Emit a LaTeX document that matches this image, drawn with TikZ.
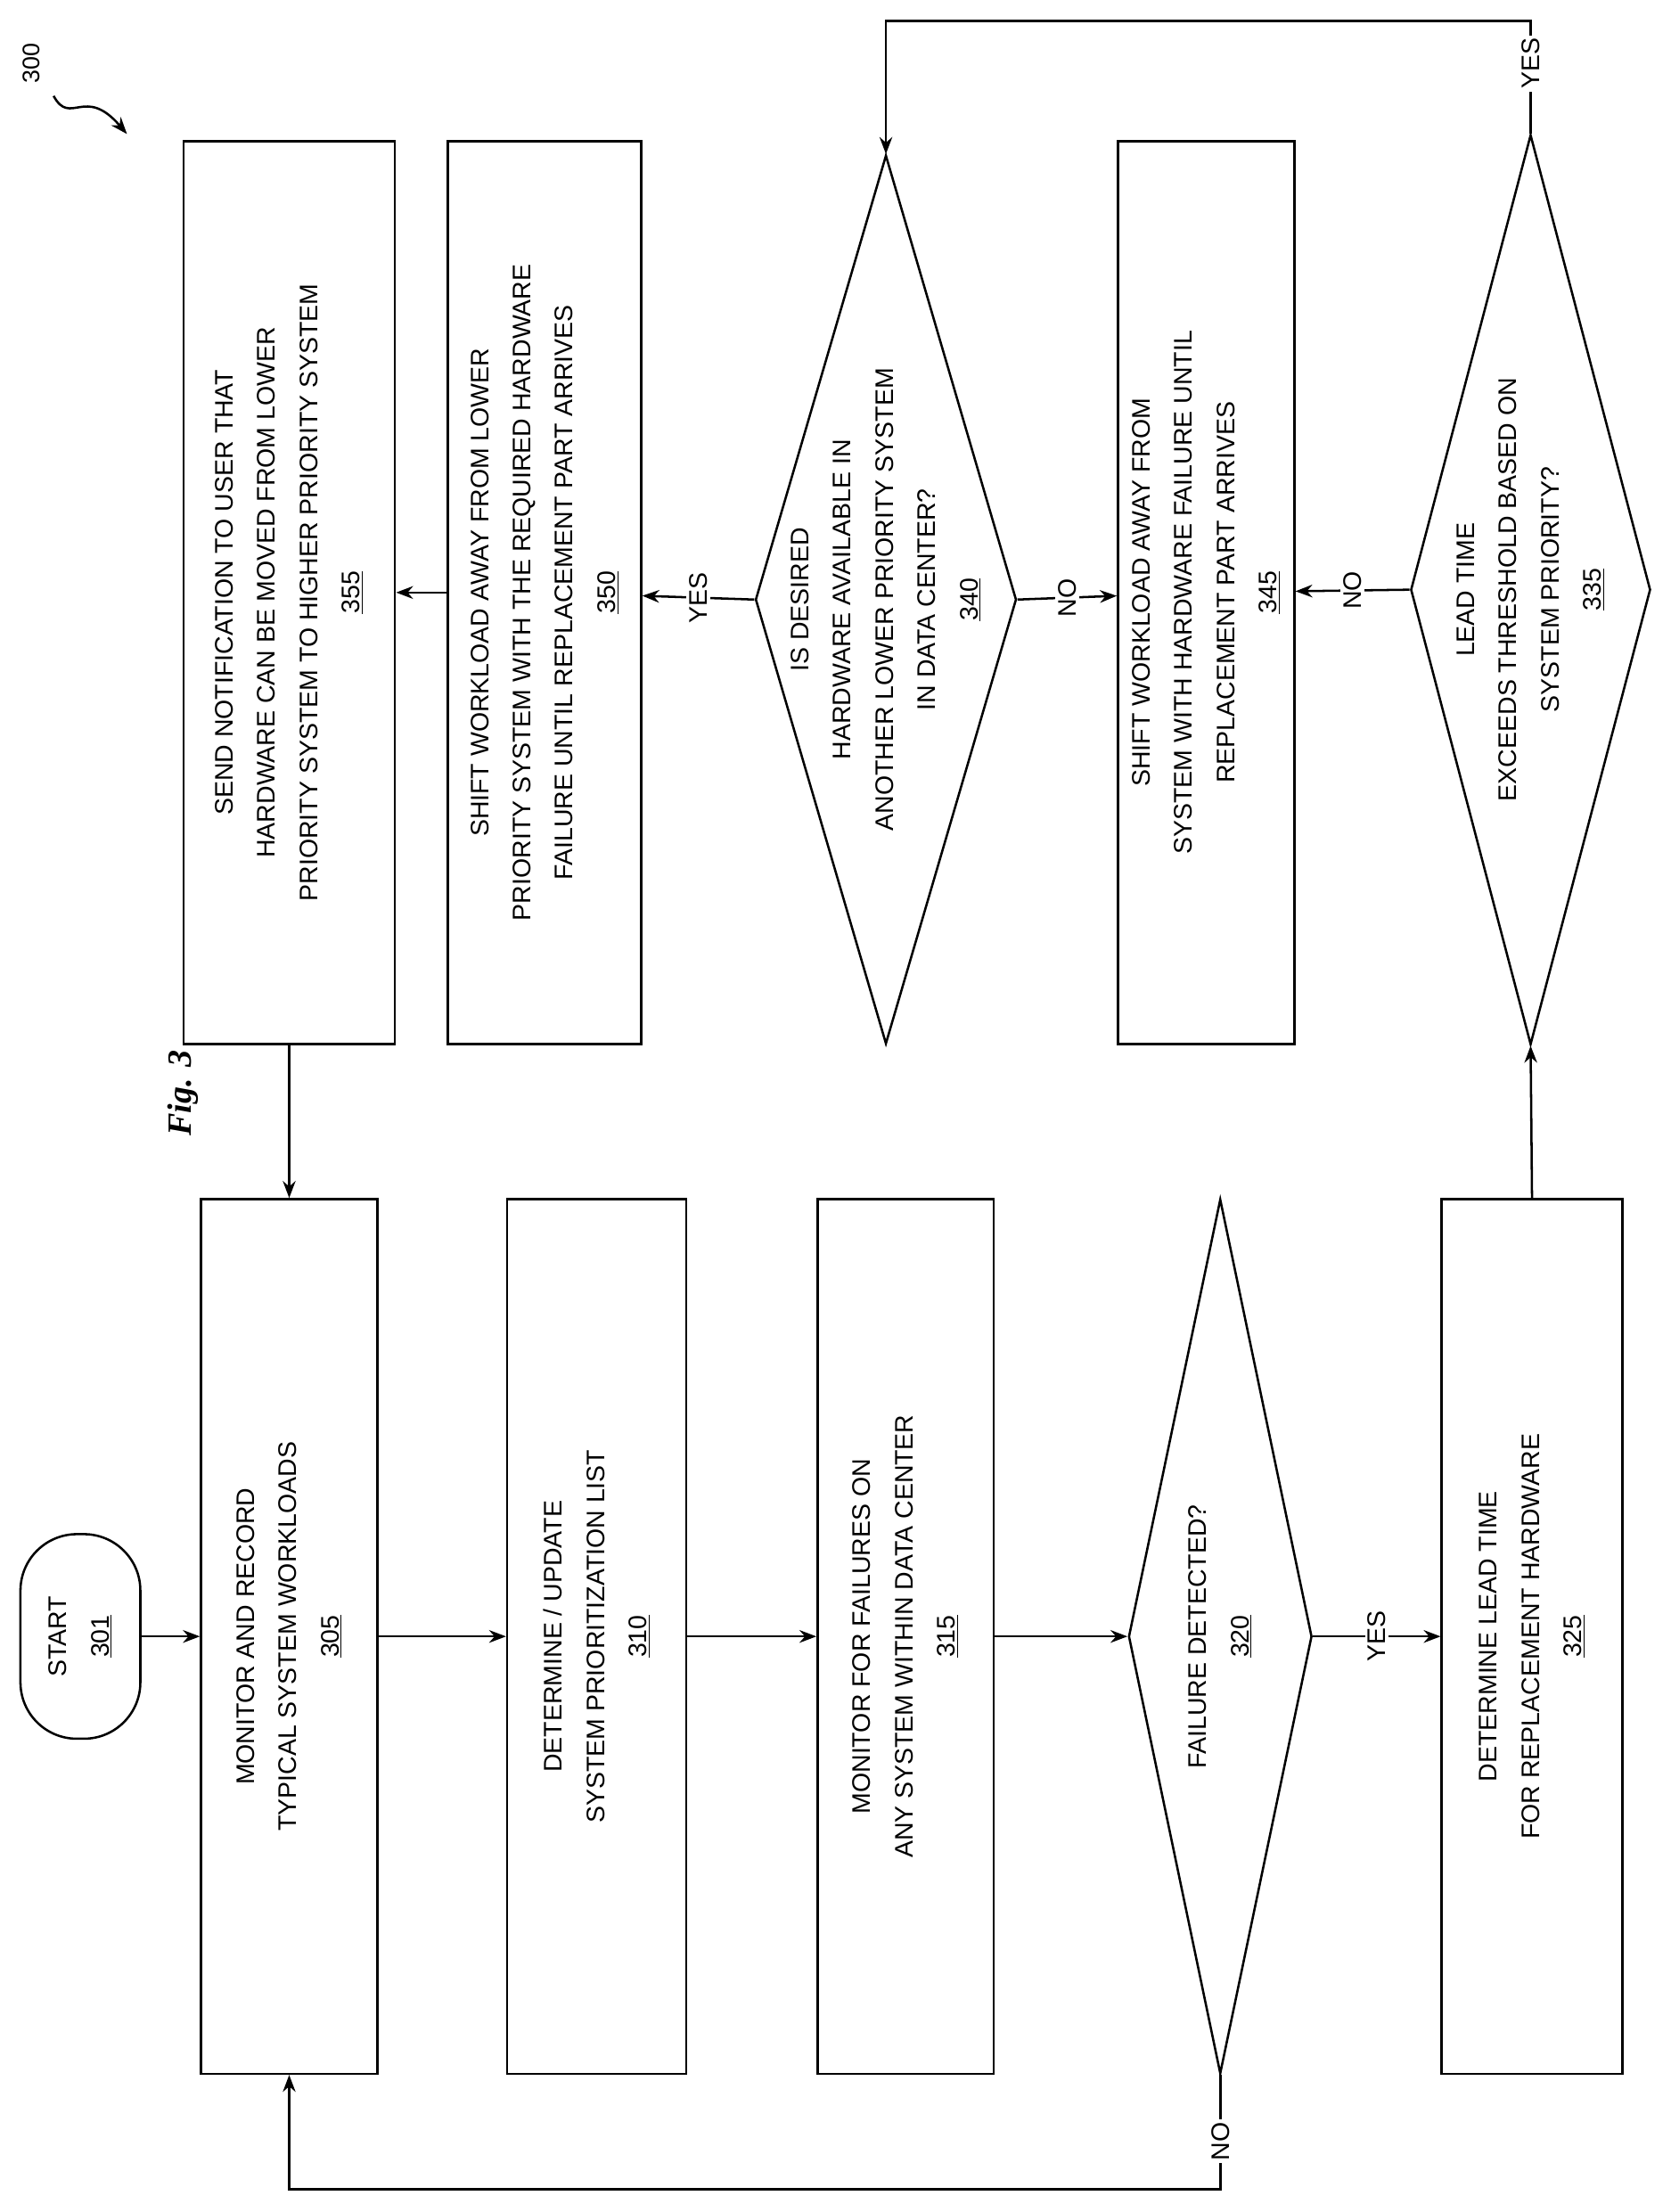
\documentclass[tikz,border=0pt]{standalone}
\usepackage{fontspec}
\setmainfont{Liberation Sans}
\newfontfamily\figfont{Liberation Serif}
\usetikzlibrary{shapes.geometric,arrows.meta}
\begin{document}
\begin{tikzpicture}[x=1pt,y=-1pt,
  every node/.style={font=\fontsize{18}{30}\selectfont},
  box/.style={draw,line width=1.6pt,rotate=90,inner sep=0pt,align=center},
  dia/.style={draw,line width=1.6pt,diamond,rotate=90,inner sep=0pt},
  txt/.style={rotate=90,align=center,inner sep=0pt},
  arr/.style={line width=1.6pt,-{Stealth[length=12pt,width=9pt]}},
  lab/.style={rotate=90,fill=white,inner sep=2pt}]
\useasboundingbox (0,0) rectangle (1184,1568);
% left column
\node[box,rounded corners=40pt,minimum width=145,minimum height=85] (n301) at (57,1160) {START\\\underline{301}};
\node[box,minimum width=620,minimum height=125] (n305) at (205,1160) {MONITOR AND RECORD\\TYPICAL SYSTEM WORKLOADS\\\underline{305}};
\node[box,minimum width=620,minimum height=127] (n310) at (423,1160) {DETERMINE / UPDATE\\SYSTEM PRIORITIZATION LIST\\\underline{310}};
\node[box,minimum width=620,minimum height=125] (n315) at (642,1160) {MONITOR FOR FAILURES ON\\ANY SYSTEM WITHIN DATA CENTER\\\underline{315}};
\node[dia,minimum width=620,minimum height=130] (n320) at (865,1160) {};
\node[txt] at (865,1160) {FAILURE DETECTED?\\\underline{320}};
\node[box,minimum width=620,minimum height=128] (n325) at (1086,1160) {DETERMINE LEAD TIME\\FOR REPLACEMENT HARDWARE\\\underline{325}};
% right column
\node[box,minimum width=640,minimum height=150] (n355) at (205,420) {SEND NOTIFICATION TO USER THAT\\HARDWARE CAN BE MOVED FROM LOWER\\PRIORITY SYSTEM TO HIGHER PRIORITY SYSTEM\\\underline{355}};
\node[box,minimum width=640,minimum height=137] (n350) at (386,420) {SHIFT WORKLOAD AWAY FROM LOWER\\PRIORITY SYSTEM WITH THE REQUIRED HARDWARE\\FAILURE UNTIL REPLACEMENT PART ARRIVES\\\underline{350}};
\node[dia,minimum width=630,minimum height=185] (n340) at (628,425) {};
\node[txt] at (628,425) {IS DESIRED\\HARDWARE AVAILABLE IN\\ANOTHER LOWER PRIORITY SYSTEM\\IN DATA CENTER?\\\underline{340}};
\node[box,minimum width=640,minimum height=125] (n345) at (855,420) {SHIFT WORKLOAD AWAY FROM\\SYSTEM WITH HARDWARE FAILURE UNTIL\\REPLACEMENT PART ARRIVES\\\underline{345}};
\node[dia,minimum width=645,minimum height=170] (n335) at (1085,418) {};
\node[txt] at (1085,418) {LEAD TIME\\EXCEEDS THRESHOLD BASED ON\\SYSTEM PRIORITY?\\\underline{335}};
% arrows
\draw[arr] (n301) -- (n305);
\draw[arr] (n305) -- (n310);
\draw[arr] (n310) -- (n315);
\draw[arr] (n315) -- (n320);
\draw[arr] (n320) -- node[lab]{YES} (n325);
\draw[arr] (n325.east) -- (n335.west);
\draw[arr] (n335.north) -- node[lab]{NO} (n345);
\draw[arr] (n340.south) -- node[lab]{NO} (n345);
\draw[arr] (n340.north) -- node[lab]{YES} (n350);
\draw[arr] (n350) -- (n355);
\draw[arr] (n355.west) -- (n305.east);
\coordinate (y1) at (1085,15);
\coordinate (y2) at (628,15);
\draw[arr] (n335.east) -- (y1) -- (y2) -- (n340.east);
\node[lab] at (1085,45) {YES};
\coordinate (q1) at (865,1552);
\coordinate (q2) at (205,1552);
\draw[arr] (n320.west) -- (q1) -- (q2) -- (n305.west);
\node[lab] at (865,1518) {NO};
% figure labels
\node[rotate=90,font=\figfont\bfseries\itshape\fontsize{24}{28}\selectfont] (fig) at (130,775) {Fig. 3};
\node[rotate=90,font=\fontsize{17}{20}\selectfont] (n300) at (22,45) {300};
\coordinate (a300) at (90,95);
\draw[arr] (38,68) .. controls (50,90) and (60,60) .. (a300);
\end{tikzpicture}
\end{document}
